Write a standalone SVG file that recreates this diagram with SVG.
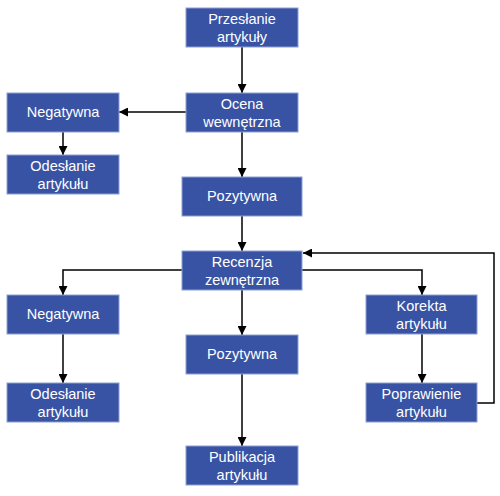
<svg xmlns="http://www.w3.org/2000/svg" width="500" height="496" viewBox="0 0 500 496">
<style>
.box{fill:#3953A4;stroke:#8EA0D2;stroke-width:1}
.t{font-family:"Liberation Sans",Arial,sans-serif;font-size:14.5px;fill:#fff;text-anchor:middle}
.c{fill:none;stroke:#000;stroke-width:1.5;marker-end:url(#ah)}
</style>
<defs>
<marker id="ah" viewBox="0 0 10 10" refX="10" refY="5" markerWidth="9" markerHeight="9" markerUnits="userSpaceOnUse" orient="auto">
<path d="M0,0 L10,5 L0,10 Z" fill="#000"/>
</marker>
</defs>
<rect width="500" height="496" fill="#fff"/>
<g id="connectors">
<path class="c" d="M242,47 V93"/>
<path class="c" d="M186,112 H119"/>
<path class="c" d="M63,132 V155"/>
<path class="c" d="M242,132 V177"/>
<path class="c" d="M242,216 V251"/>
<path class="c" d="M182,270 H63 V295"/>
<path class="c" d="M302,270 H422 V295"/>
<path class="c" d="M242,290 V335"/>
<path class="c" d="M63,334 V383"/>
<path class="c" d="M422,334 V383"/>
<path class="c" d="M242,374 V446"/>
<path class="c" d="M477,403 H494 V253 H303"/>
</g>
<g id="n1"><rect class="box" x="186" y="8" width="112" height="39"/><text class="t" x="242" y="24">Przesłanie</text><text class="t" x="242" y="41.5">artykuły</text></g>
<g id="n2"><rect class="box" x="186" y="93" width="112" height="39"/><text class="t" x="242" y="109">Ocena</text><text class="t" x="242" y="126.5">wewnętrzna</text></g>
<g id="n3"><rect class="box" x="7" y="93" width="112" height="39"/><text class="t" x="63" y="117">Negatywna</text></g>
<g id="n4"><rect class="box" x="7" y="155" width="112" height="39"/><text class="t" x="63" y="171">Odesłanie</text><text class="t" x="63" y="188.5">artykułu</text></g>
<g id="n5"><rect class="box" x="182" y="177" width="120" height="39"/><text class="t" x="242" y="201">Pozytywna</text></g>
<g id="n6"><rect class="box" x="182" y="251" width="120" height="39"/><text class="t" x="242" y="267">Recenzja</text><text class="t" x="242" y="284.5">zewnętrzna</text></g>
<g id="n7"><rect class="box" x="7" y="295" width="112" height="39"/><text class="t" x="63" y="319">Negatywna</text></g>
<g id="n8"><rect class="box" x="366" y="295" width="111" height="39"/><text class="t" x="421.5" y="311">Korekta</text><text class="t" x="421.5" y="328.5">artykułu</text></g>
<g id="n9"><rect class="box" x="186" y="335" width="112" height="39"/><text class="t" x="242" y="359">Pozytywna</text></g>
<g id="n10"><rect class="box" x="7" y="383" width="112" height="39"/><text class="t" x="63" y="399">Odesłanie</text><text class="t" x="63" y="416.5">artykułu</text></g>
<g id="n11"><rect class="box" x="366" y="383" width="111" height="39"/><text class="t" x="421.5" y="399">Poprawienie</text><text class="t" x="421.5" y="416.5">artykułu</text></g>
<g id="n12"><rect class="box" x="186" y="446" width="112" height="39"/><text class="t" x="242" y="462">Publikacja</text><text class="t" x="242" y="479.5">artykułu</text></g>
</svg>
